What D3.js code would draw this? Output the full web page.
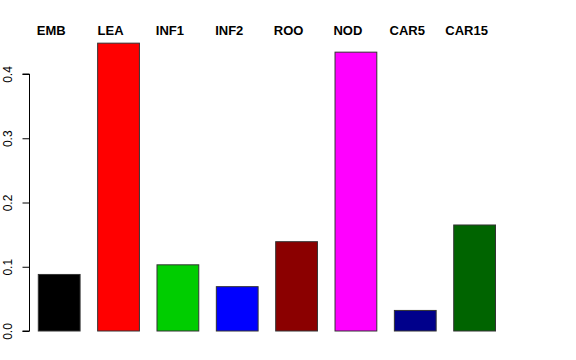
<!DOCTYPE html>
<html>
<meta charset="utf-8">
<head>
  <script src="https://d3js.org/d3.v7.min.js"></script>
  <style>
    body { margin: 0; background: #fff; }
    text { font-family: "Liberation Sans", Arial, sans-serif; }
  </style>
</head>
<body>
<div id="my_dataviz"></div>
<script>

// data
var categories = ["EMB", "LEA", "INF1", "INF2", "ROO", "NOD", "CAR5", "CAR15"];
var values = [0.088, 0.448, 0.103, 0.069, 0.139, 0.434, 0.032, 0.165];
var barColors = ["#000000", "#FF0000", "#00CD00", "#0000FF", "#8B0000", "#FF00FF", "#00008B", "#006400"];
var yTicks = [0, 0.1, 0.2, 0.3, 0.4];

var width = 576, height = 360;

var svg = d3.select("#my_dataviz").append("svg")
    .attr("width", width)
    .attr("height", height);

// scales
var x = d3.scaleBand()
    .domain(categories)
    .range([38.3, 495.5])
    .paddingInner(0.296)
    .paddingOuter(0);

var y = d3.scaleLinear()
    .domain([0, 0.4])
    .range([331, 74]);

// y axis, R style
var yAxis = d3.axisLeft(y)
    .tickValues(yTicks)
    .tickSize(7)
    .tickFormat(d3.format(".1f"));

var gy = svg.append("g")
    .attr("transform", "translate(29.5,0)")
    .call(yAxis);

gy.select(".domain")
    .attr("d", "M-7," + y(0) + "H0V" + y(0.4) + "H-7")
    .attr("stroke", "#000");
gy.selectAll(".tick line").attr("stroke", "#000");
gy.selectAll(".tick text")
    .attr("font-size", 12)
    .attr("fill", "#000")
    .attr("text-anchor", "middle")
    .attr("transform", "rotate(-90)")
    .attr("x", 0)
    .attr("y", -17.5)
    .attr("dy", 0);

// fix rotated labels positions: rotate around tick origin
gy.selectAll(".tick text")
    .attr("transform", function(d) { return "rotate(-90)"; });

// bars
svg.append("g")
  .selectAll("rect")
  .data(values)
  .enter()
  .append("rect")
    .attr("x", function(d, i) { return x(categories[i]); })
    .attr("y", function(d) { return y(d); })
    .attr("width", x.bandwidth())
    .attr("height", function(d) { return y(0) - y(d); })
    .attr("fill", function(d, i) { return barColors[i]; })
    .attr("stroke", "#333")
    .attr("stroke-width", 1);

// category labels on top
svg.append("g")
  .selectAll("text")
  .data(categories)
  .enter()
  .append("text")
    .attr("x", function(d) { return x(d) + x.bandwidth() / 2 - 8; })
    .attr("y", 34.5)
    .attr("text-anchor", "middle")
    .attr("font-size", 13)
    .attr("font-weight", "bold")
    .text(function(d) { return d; });

</script>
</body>
</html>
